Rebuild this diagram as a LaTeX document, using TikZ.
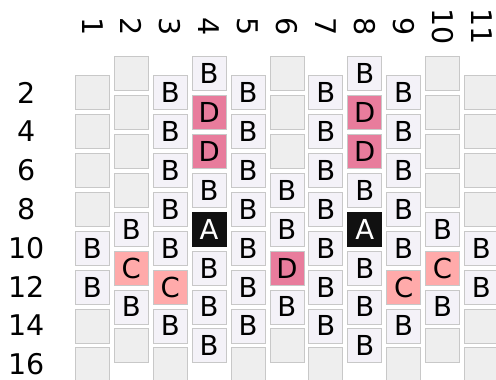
\documentclass[tikz,border=0pt]{standalone}
\usepackage{fontspec}
\setmainfont{DejaVu Sans}
\usepackage{tikz}
\usetikzlibrary{positioning}
\usepackage{xcolor}
\definecolor{wellempty}{RGB}{238,238,238}
\definecolor{wellborder}{RGB}{200,200,200}
\definecolor{welllav}{RGB}{244,242,248}
\definecolor{wellpink}{RGB}{232,124,156}
\definecolor{wellsalmon}{RGB}{255,170,170}
\definecolor{wellblack}{RGB}{17,17,17}

\begin{document}
\begin{tikzpicture}[
  x=1pt,y=-1pt,
  well/.style={draw=wellborder,line width=0.7pt,minimum size=34pt,inner sep=0pt,font=\fontsize{27.5}{27.5}\selectfont},
  wellE/.style={well,fill=wellempty,node contents={}},
  wellB/.style={well,fill=welllav,node contents={B}},
  wellD/.style={well,fill=wellpink,node contents={D}},
  wellC/.style={well,fill=wellsalmon,node contents={C}},
  wellA/.style={well,draw=wellblack,fill=wellblack,text=white,node contents={A}},
  collab/.style={font=\fontsize{28.5}{28.5}\selectfont,rotate=-90,inner sep=0pt},
  rowlab/.style={font=\fontsize{28.5}{28.5}\selectfont,inner sep=0pt}
]
\useasboundingbox (0,0) rectangle (496,380);

% WELLS: one column per entry, odd columns sit half a pitch lower
\foreach \col/\list in {
  1/{E,E,E,E,B,B,E,E},
  2/{E,E,E,E,B,C,B,E},
  3/{B,B,B,B,B,C,B,E},
  4/{B,D,D,B,A,B,B,B},
  5/{B,B,B,B,B,B,B,E},
  6/{E,E,E,B,B,D,B,E},
  7/{B,B,B,B,B,B,B,E},
  8/{B,D,D,B,A,B,B,B},
  9/{B,B,B,B,B,C,B,E},
  10/{E,E,E,E,B,C,B,E},
  11/{E,E,E,E,B,B,E,E}} {
  \pgfmathsetmacro\xx{92.4+38.9*(\col-1)}
  \pgfmathsetmacro\yy{mod(\col,2)==1 ? 92.5 : 73.5}
  \foreach \t [count=\i from 0] in \list {
    \node (w\col-\i) at (\xx,\yy+38.9*\i) [well\t];
  }
  % column number on top
  \node[collab] (col\col) at (\xx,27) {\col};
}

% ROW NUMBERS on the left
\foreach \r [count=\k from 0] in {2,4,...,16}
  \node[rowlab] (row\r) at (27,92.8+38.8*\k) {\r};

\end{tikzpicture}
\end{document}
